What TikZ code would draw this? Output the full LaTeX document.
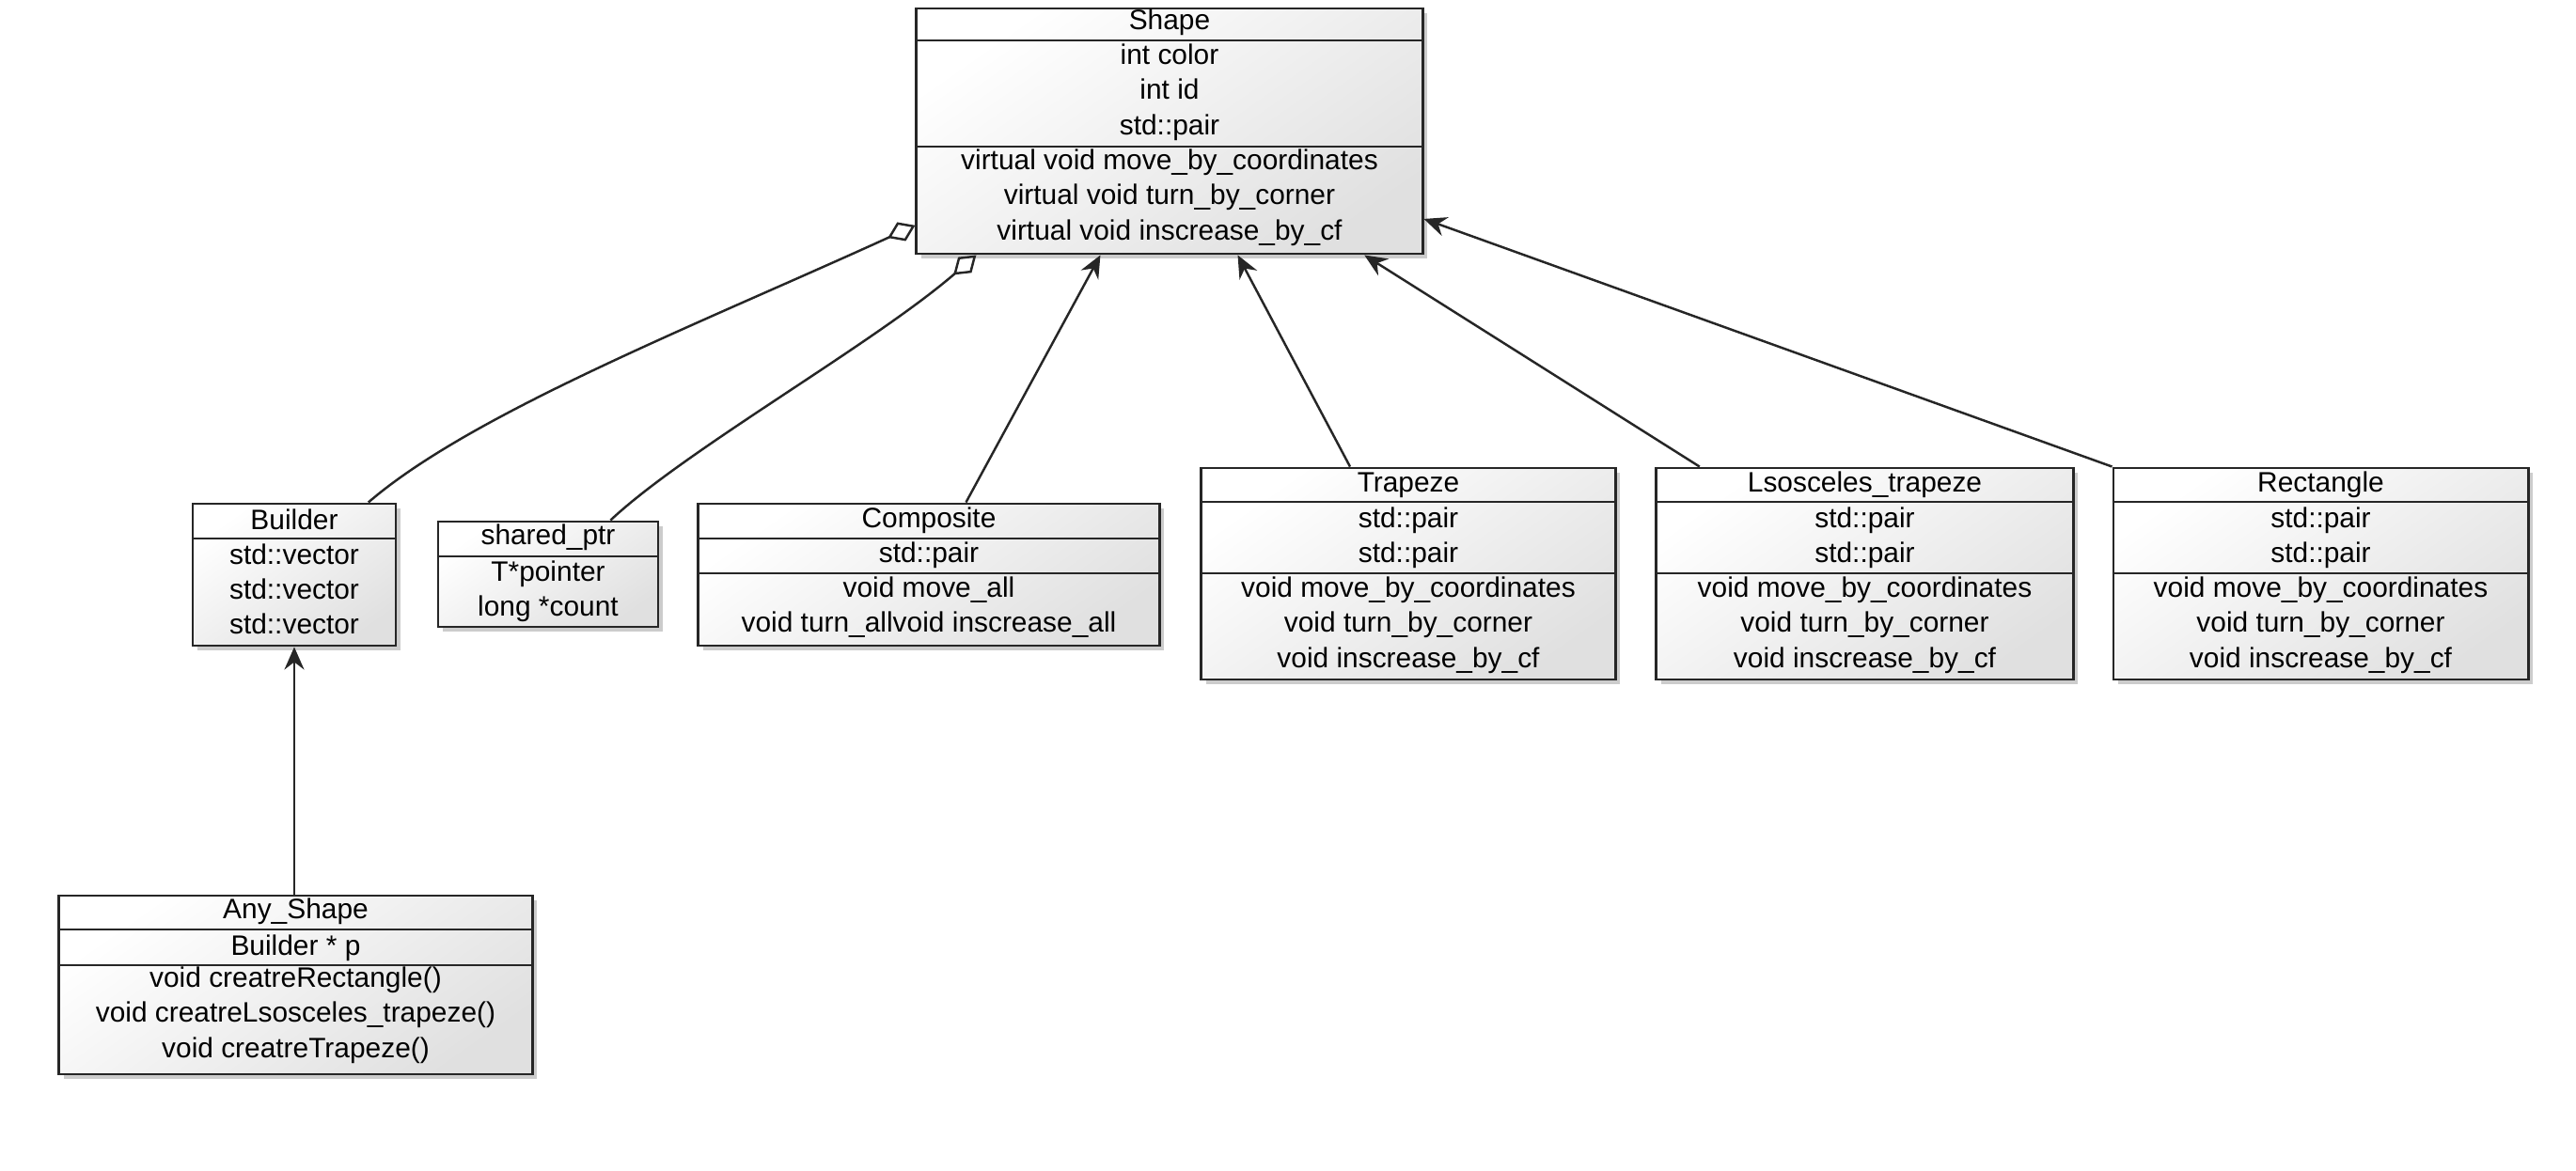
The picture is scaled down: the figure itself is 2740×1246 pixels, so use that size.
\documentclass[tikz,border=0pt]{standalone}
\usepackage{fontspec}
\setmainfont{Liberation Sans}
\usetikzlibrary{arrows.meta,shadows,calc}
\begin{document}
\begin{tikzpicture}[x=0.01cm,y=-0.01cm,
  cls/.style={draw=black!85, line width=0.8pt, inner sep=0pt,
    top color=white, bottom color=black!12, shading angle=35,
    drop shadow={shadow xshift=0.05cm, shadow yshift=-0.05cm, opacity=0.2, fill=black}},
  sep/.style={draw=black!85, line width=0.8pt},
  txt/.style={font=\fontsize{8.5}{10.6}\selectfont, align=center, inner sep=0pt},
  inh/.style={draw=black!85, line width=0.7pt, -{Stealth[length=0.24cm,width=0.21cm,inset=0.08cm]}},
  agg/.style={draw=black!85, line width=0.7pt, -{Diamond[length=0.32cm,width=0.22cm,fill=white]}}
]
\useasboundingbox (0,0) rectangle (2740,1246);

% ---------- Shape ----------
\node[cls, minimum width=5.38cm, minimum height=2.61cm] (shape) at (1244,139.5) {};
\draw[sep] (shape.west |- 0,43) -- (shape.east |- 0,43);
\draw[sep] (shape.west |- 0,156) -- (shape.east |- 0,156);
\node[txt] (shapeT) at (1244,24) {Shape};
\node[txt] (shapeA) at (1244,98) {int color\\int id\\std::pair};
\node[txt] (shapeM) at (1244,210) {virtual void move\_by\_coordinates\\virtual void turn\_by\_corner\\virtual void inscrease\_by\_cf};

% ---------- Builder ----------
\node[cls, minimum width=2.16cm, minimum height=1.51cm] (builder) at (313,611.5) {};
\draw[sep] (builder.west |- 0,573) -- (builder.east |- 0,573);
\node[txt] (builderT) at (313,553) {Builder};
\node[txt] (builderA) at (313,627) {std::vector\\std::vector\\std::vector};

% ---------- shared_ptr ----------
\node[cls, minimum width=2.34cm, minimum height=1.12cm] (sptr) at (583,611) {};
\draw[sep] (sptr.west |- 0,592) -- (sptr.east |- 0,592);
\node[txt] (sptrT) at (583,572) {shared\_ptr};
\node[txt] (sptrA) at (583,629) {T*pointer\\long *count};

% ---------- Composite ----------
\node[cls, minimum width=4.90cm, minimum height=1.51cm] (composite) at (988,611.5) {};
\draw[sep] (composite.west |- 0,573) -- (composite.east |- 0,573);
\draw[sep] (composite.west |- 0,610) -- (composite.east |- 0,610);
\node[txt] (compositeT) at (988,554) {Composite};
\node[txt] (compositeA) at (988,591) {std::pair};
\node[txt] (compositeM) at (988,646) {void move\_all\\void turn\_allvoid inscrease\_all};

% ---------- Trapeze ----------
\node[cls, minimum width=4.40cm, minimum height=2.25cm] (trapeze) at (1498,610.5) {};
\draw[sep] (trapeze.west |- 0,534) -- (trapeze.east |- 0,534);
\draw[sep] (trapeze.west |- 0,610) -- (trapeze.east |- 0,610);
\node[txt] (trapezeT) at (1498,516) {Trapeze};
\node[txt] (trapezeA) at (1498,572) {std::pair\\std::pair};
\node[txt] (trapezeM) at (1498,665) {void move\_by\_coordinates\\void turn\_by\_corner\\void inscrease\_by\_cf};

% ---------- Lsosceles_trapeze ----------
\node[cls, minimum width=4.43cm, minimum height=2.25cm] (isos) at (1983.5,610.5) {};
\draw[sep] (isos.west |- 0,534) -- (isos.east |- 0,534);
\draw[sep] (isos.west |- 0,610) -- (isos.east |- 0,610);
\node[txt] (isosT) at (1983.5,516) {Lsosceles\_trapeze};
\node[txt] (isosA) at (1983.5,572) {std::pair\\std::pair};
\node[txt] (isosM) at (1983.5,665) {void move\_by\_coordinates\\void turn\_by\_corner\\void inscrease\_by\_cf};

% ---------- Rectangle ----------
\node[cls, minimum width=4.41cm, minimum height=2.25cm] (rect) at (2468.5,610.5) {};
\draw[sep] (rect.west |- 0,534) -- (rect.east |- 0,534);
\draw[sep] (rect.west |- 0,610) -- (rect.east |- 0,610);
\node[txt] (rectT) at (2468.5,516) {Rectangle};
\node[txt] (rectA) at (2468.5,572) {std::pair\\std::pair};
\node[txt] (rectM) at (2468.5,665) {void move\_by\_coordinates\\void turn\_by\_corner\\void inscrease\_by\_cf};

% ---------- Any_Shape ----------
\node[cls, minimum width=5.03cm, minimum height=1.90cm] (any) at (314.5,1048) {};
\draw[sep] (any.west |- 0,989) -- (any.east |- 0,989);
\draw[sep] (any.west |- 0,1027) -- (any.east |- 0,1027);
\node[txt] (anyT) at (314.5,970) {Any\_Shape};
\node[txt] (anyA) at (314.5,1009) {Builder * p};
\node[txt] (anyM) at (314.5,1080) {void creatreRectangle()\\void creatreLsosceles\_trapeze()\\void creatreTrapeze()};

% ---------- aggregations ----------
\draw[agg] ($(builder.north west)!0.86!(builder.north east)$)
  .. controls +(110,-95) and +(-230,105) .. ($(shape.north west)!0.88!(shape.south west)$);
\draw[agg] ($(sptr.north west)!0.78!(sptr.north east)$)
  .. controls +(80,-75) and +(-110,95) .. ($(shape.south west)!0.12!(shape.south east)$);

% ---------- inheritance ----------
\draw[inh] ($(composite.north west)!0.58!(composite.north east)$) -- ($(shape.south west)!0.364!(shape.south east)$);
\draw[inh] ($(trapeze.north west)!0.36!(trapeze.north east)$) -- ($(shape.south west)!0.634!(shape.south east)$);
\draw[inh] ($(isos.north west)!0.106!(isos.north east)$) -- ($(shape.south west)!0.883!(shape.south east)$);
\draw[inh] (rect.north west) -- ($(shape.north east)!0.854!(shape.south east)$);
\draw[inh] (builder.south |- any.north) -- (builder.south);
\end{tikzpicture}
\end{document}
